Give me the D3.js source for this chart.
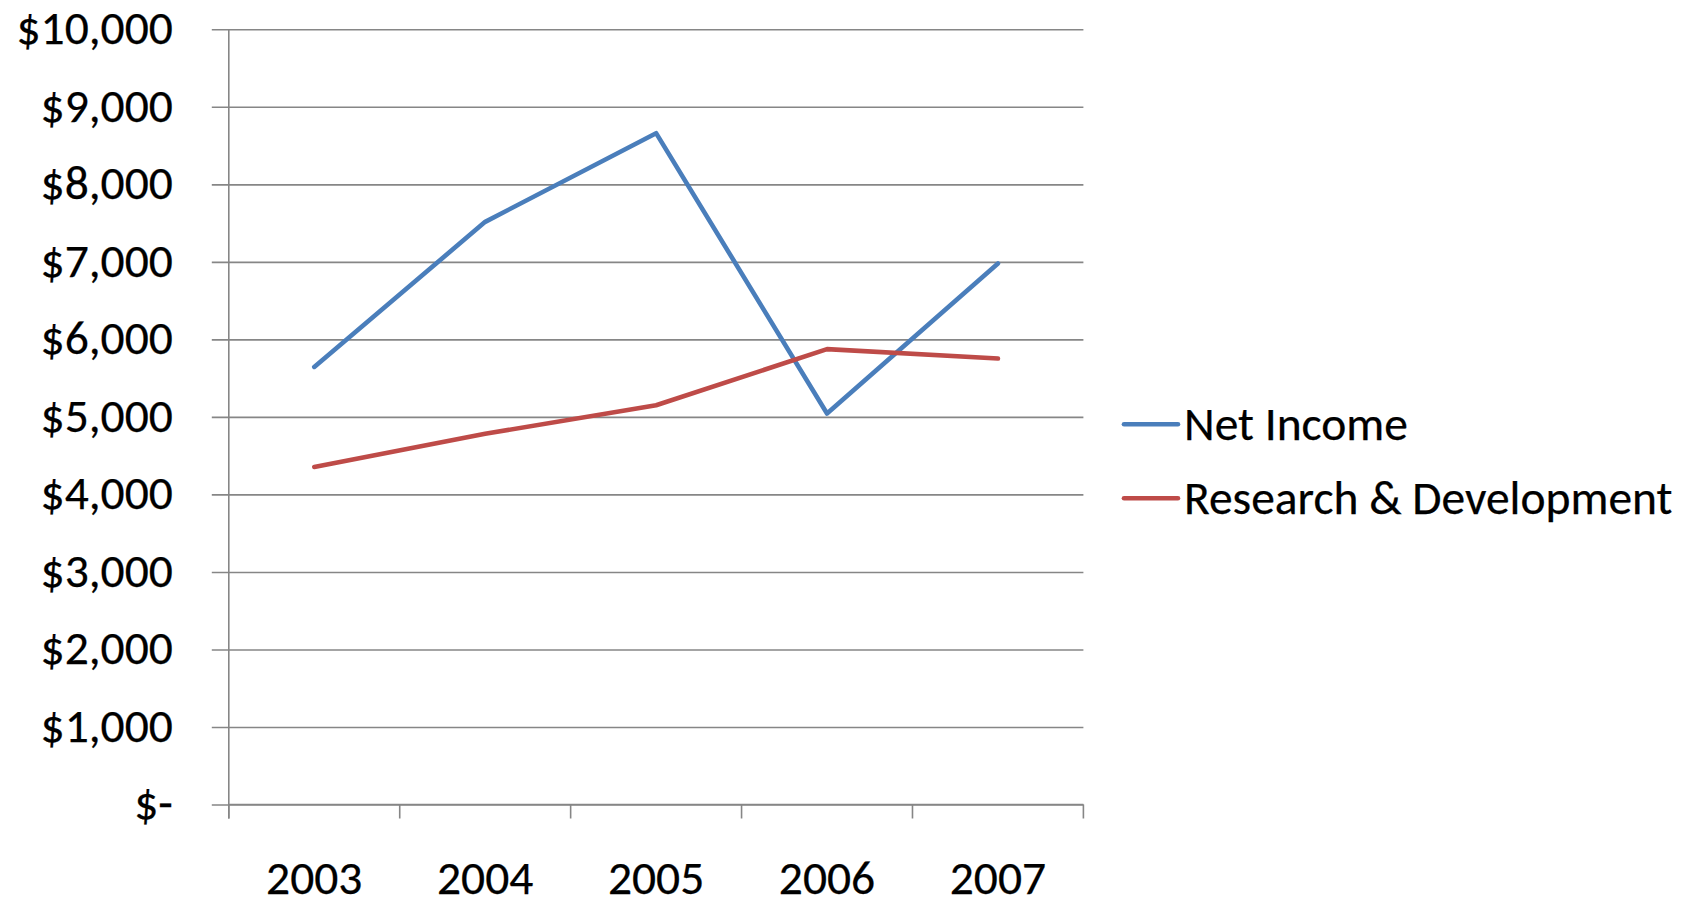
<!DOCTYPE html>
<html><head><meta charset="utf-8">
<script src="https://cdnjs.cloudflare.com/ajax/libs/d3/7.8.5/d3.min.js"></script>
<style>
html,body{margin:0;padding:0;background:#fff;}
svg{display:block;}
text{font-family:Carlito, Calibri, Lato, sans-serif;fill:#000;stroke:#000;stroke-width:0.25px;}
</style></head>
<body>
<svg id="chart" width="1692" height="900"></svg>
<script>
const years = ["2003","2004","2005","2006","2007"];
const netIncome = [5645, 7516, 8660, 5044, 6980];
const researchDev = [4355, 4782, 5151, 5874, 5753];
const seriesNames = ["Net Income", "Research & Development"];
const seriesColors = ["#4A7EBB", "#BE4B48"];
const yTickValues = [0,1000,2000,3000,4000,5000,6000,7000,8000,9000,10000];
const yTickLabels = ["$-","$1,000","$2,000","$3,000","$4,000","$5,000","$6,000","$7,000","$8,000","$9,000","$10,000"];

const margin = {left: 228.8, top: 29.3, right: 1083.4, bottom: 804.5};
const svg = d3.select("#chart");
const W = margin.right - margin.left, H = margin.bottom - margin.top;
const g = svg.append("g").attr("transform", `translate(${margin.left},${margin.top})`);

const x = d3.scaleBand().domain(years).range([0, W]).padding(0);
const y = d3.scaleLinear().domain([0, 10000]).range([H, 0]);

const gridColor = "#868686";
const fontSize = 47.5;

// Y axis with gridlines
const yAxis = g.append("g").call(
  d3.axisLeft(y).tickValues(yTickValues).tickSizeOuter(0)
    .tickFormat((d,i) => yTickLabels[i])
);
yAxis.select(".domain").remove();
yAxis.selectAll(".tick line").attr("x1", W).attr("x2", -17)
  .attr("stroke", gridColor).attr("stroke-width", 1.6);
yAxis.selectAll(".tick text").attr("x", -56).attr("dy", "0.3em")
  .style("font-size", fontSize + "px").attr("fill", "#000");

// vertical axis line
g.append("line").attr("x1", 0).attr("x2", 0).attr("y1", 0).attr("y2", H + 14)
  .attr("stroke", gridColor).attr("stroke-width", 1.6);

// X axis
const boundaries = years.map(d => x(d)).concat([W]);
const xAxis = g.append("g").attr("transform", `translate(0,${H})`);
xAxis.append("line").attr("x1", 0).attr("x2", W).attr("stroke", gridColor).attr("stroke-width", 1.6);
xAxis.selectAll("line.tk").data(boundaries).join("line").attr("class","tk")
  .attr("x1", d => d).attr("x2", d => d).attr("y1", 0).attr("y2", 14)
  .attr("stroke", gridColor).attr("stroke-width", 1.6);
xAxis.selectAll("text").data(years).join("text")
  .attr("x", d => x(d) + x.bandwidth()/2).attr("y", 89)
  .attr("text-anchor", "middle").style("font-size", fontSize + "px").text(d => d);

// Lines
const line = d3.line().x((d,i) => x(years[i]) + x.bandwidth()/2).y(d => y(d));
[netIncome, researchDev].forEach((s, k) => {
  g.append("path").datum(s).attr("d", line).attr("fill", "none")
    .attr("stroke", seriesColors[k]).attr("stroke-width", 4.6)
    .attr("stroke-linejoin", "round").attr("stroke-linecap", "round");
});

// Legend
const legend = svg.append("g");
seriesNames.forEach((name, k) => {
  const ly = 424.3 + k * 74;
  legend.append("line").attr("x1", 1124).attr("x2", 1178).attr("y1", ly).attr("y2", ly)
    .attr("stroke", seriesColors[k]).attr("stroke-width", 4.6).attr("stroke-linecap", "round");
  legend.append("text").attr("x", 1184).attr("y", ly).attr("dy", "0.33em")
    .style("font-size", fontSize + "px").text(name);
});
</script>
</body></html>
